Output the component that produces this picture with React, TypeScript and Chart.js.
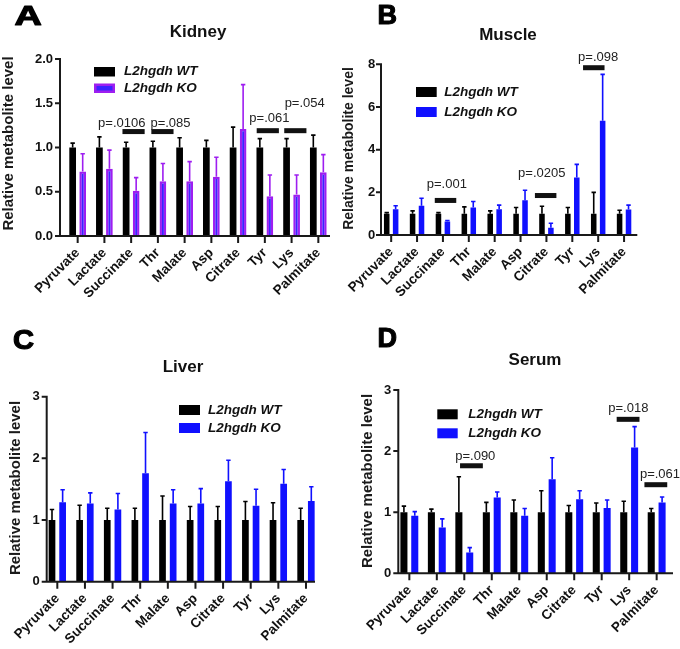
import React, { useEffect, useRef } from 'react';
import { Chart, registerables } from 'chart.js';

Chart.register(...registerables);

const FONT = '"Liberation Sans", Arial, Helvetica, sans-serif';

const categories = ['Pyruvate', 'Lactate', 'Succinate', 'Thr', 'Malate', 'Asp', 'Citrate', 'Tyr', 'Lys', 'Palmitate'];
const seriesNames = ['L2hgdh WT', 'L2hgdh KO'];

// ---- Kidney (A)
const kidneyWT = [1, 1, 1, 1, 1, 1, 1, 1, 1, 1];
const kidneyWTErr = [0.05, 0.12, 0.06, 0.07, 0.11, 0.08, 0.23, 0.1, 0.1, 0.14];
const kidneyKO = [0.73, 0.76, 0.51, 0.62, 0.62, 0.67, 1.21, 0.45, 0.47, 0.72];
const kidneyKOErr = [0.2, 0.21, 0.15, 0.2, 0.22, 0.22, 0.5, 0.24, 0.22, 0.2];
const kidneyYTicks = [0, 0.5, 1, 1.5, 2];
const kidneySigLabels = ['p=.0106', 'p=.085', 'p=.061', 'p=.054'];
const kidneySigCat = [2.09, 3.17, 7.11, 8.14];
const kidneySigY = [1.18, 1.18, 1.19, 1.19];
const kidneySigTextCat = [1.65, 3.47, 7.17, 8.49];
const kidneySigTextY = [1.27, 1.27, 1.33, 1.5];

// ---- Muscle (B)
const muscleWT = [1, 1, 1, 1, 1, 1, 1, 1, 1, 1];
const muscleWTErr = [0.05, 0.13, 0.05, 0.32, 0.13, 0.29, 0.35, 0.29, 1.0, 0.16];
const muscleKO = [1.21, 1.37, 0.63, 1.29, 1.21, 1.63, 0.34, 2.69, 5.36, 1.2];
const muscleKOErr = [0.16, 0.35, 0.05, 0.28, 0.19, 0.47, 0.21, 0.62, 2.17, 0.2];
const muscleYTicks = [0, 2, 4, 6, 8];
const muscleSigLabels = ['p=.001', 'p=.0205', 'p=.098'];
const muscleSigCat = [2.1, 5.97, 7.83];
const muscleSigY = [1.62, 1.85, 7.84];
const muscleSigTextCat = [2.15, 5.82, 8.0];
const muscleSigTextY = [2.35, 2.87, 8.34];

// ---- Liver (C)
const liverWT = [1, 1, 1, 1, 1, 1, 1, 1, 1, 1];
const liverWTErr = [0.17, 0.24, 0.19, 0.19, 0.39, 0.22, 0.22, 0.3, 0.28, 0.19];
const liverKO = [1.29, 1.27, 1.17, 1.76, 1.27, 1.27, 1.63, 1.23, 1.59, 1.31];
const liverKOErr = [0.2, 0.17, 0.26, 0.66, 0.22, 0.24, 0.34, 0.27, 0.23, 0.23];
const liverYTicks = [0, 1, 2, 3];
const liverSigLabels: string[] = [];
const liverSigCat: number[] = [];
const liverSigY: number[] = [];
const liverSigTextCat: number[] = [];
const liverSigTextY: number[] = [];

// ---- Serum (D)
const serumWT = [1, 1, 1, 1, 1, 1, 1, 1, 1, 1];
const serumWTErr = [0.1, 0.05, 0.58, 0.16, 0.2, 0.35, 0.11, 0.15, 0.18, 0.06];
const serumKO = [0.94, 0.75, 0.34, 1.24, 0.94, 1.54, 1.21, 1.07, 2.06, 1.16];
const serumKOErr = [0.07, 0.14, 0.08, 0.09, 0.12, 0.35, 0.14, 0.13, 0.34, 0.09];
const serumYTicks = [0, 1, 2, 3];
const serumSigLabels = ['p=.090', 'p=.018', 'p=.061'];
const serumSigCat = [2.26, 7.96, 8.97];
const serumSigY = [1.76, 2.52, 1.45];
const serumSigTextCat = [2.4, 7.97, 9.12];
const serumSigTextY = [1.92, 2.7, 1.62];

interface Layout {
  left: number; top: number; w: number; h: number;
  caLeft: number; caRight: number; caTop: number; caBottom: number;
  axisX: number; axisEnd: number; barPct: number; catPct: number;
  letterX: number; letterTop: number; letterScale: number;
  titleX: number; titleY: number;
  legendX: number; legendW: number; legendY1: number; legendY2: number; legendH: number; legendTextX: number;
  yLabelX: number; yLabelY: number; yLabelSize: number;
}

interface Panel {
  letter: string; title: string;
  wt: number[]; wtErr: number[]; ko: number[]; koErr: number[];
  yTicks: number[]; decimals: number;
  koFill: string; koBorder: string; koBorderWidth: number;
  sigLabels: string[]; sigCat: number[]; sigY: number[]; sigTextCat: number[]; sigTextY: number[];
  L: Layout;
}

const BLUE = '#1010ff';

const panels: Panel[] = [
  {
    letter: 'A', title: 'Kidney', wt: kidneyWT, wtErr: kidneyWTErr, ko: kidneyKO, koErr: kidneyKOErr,
    yTicks: kidneyYTicks, decimals: 1, koFill: '#3a22ff', koBorder: '#9e1ef0', koBorderWidth: 2.4,
    sigLabels: kidneySigLabels, sigCat: kidneySigCat, sigY: kidneySigY, sigTextCat: kidneySigTextCat, sigTextY: kidneySigTextY,
    L: {
      left: 0, top: 0, w: 340, h: 320, caLeft: 64.3, caRight: 331.7, caTop: 59, caBottom: 236,
      axisX: 60, axisEnd: 330, barPct: 0.67, catPct: 0.75,
      letterX: 16, letterTop: 5.5, letterScale: 1.4, titleX: 198, titleY: 32.5,
      legendX: 94, legendW: 21, legendY1: 67, legendY2: 83.5, legendH: 9.5, legendTextX: 124,
      yLabelX: 9, yLabelY: 143.5, yLabelSize: 15,
    },
  },
  {
    letter: 'B', title: 'Muscle', wt: muscleWT, wtErr: muscleWTErr, ko: muscleKO, koErr: muscleKOErr,
    yTicks: muscleYTicks, decimals: 0, koFill: BLUE, koBorder: BLUE, koBorderWidth: 0,
    sigLabels: muscleSigLabels, sigCat: muscleSigCat, sigY: muscleSigY, sigTextCat: muscleSigTextCat, sigTextY: muscleSigTextY,
    L: {
      left: 340, top: 0, w: 340, h: 320, caLeft: 37, caRight: 297, caTop: 64.3, caBottom: 235,
      axisX: 41, axisEnd: 297.3, barPct: 0.62, catPct: 0.69,
      letterX: 38.5, letterTop: 4.5, letterScale: 1.0, titleX: 168, titleY: 35,
      legendX: 76, legendW: 20.7, legendY1: 87, legendY2: 107, legendH: 10, legendTextX: 104.3,
      yLabelX: 9, yLabelY: 148.5, yLabelSize: 14,
    },
  },
  {
    letter: 'C', title: 'Liver', wt: liverWT, wtErr: liverWTErr, ko: liverKO, koErr: liverKOErr,
    yTicks: liverYTicks, decimals: 0, koFill: BLUE, koBorder: BLUE, koBorderWidth: 0,
    sigLabels: liverSigLabels, sigCat: liverSigCat, sigY: liverSigY, sigTextCat: liverSigTextCat, sigTextY: liverSigTextY,
    L: {
      left: 0, top: 320, w: 340, h: 329, caLeft: 43.5, caRight: 319.8, caTop: 76.7, caBottom: 261.7,
      axisX: 46.7, axisEnd: 315, barPct: 0.63, catPct: 0.77,
      letterX: 14, letterTop: 9.5, letterScale: 1.08, titleX: 183, titleY: 47.5,
      legendX: 179, legendW: 21, legendY1: 85, legendY2: 103, legendH: 10, legendTextX: 208,
      yLabelX: 16, yLabelY: 168, yLabelSize: 15,
    },
  },
  {
    letter: 'D', title: 'Serum', wt: serumWT, wtErr: serumWTErr, ko: serumKO, koErr: serumKOErr,
    yTicks: serumYTicks, decimals: 0, koFill: BLUE, koBorder: BLUE, koBorderWidth: 0,
    sigLabels: serumSigLabels, sigCat: serumSigCat, sigY: serumSigY, sigTextCat: serumSigTextCat, sigTextY: serumSigTextY,
    L: {
      left: 340, top: 320, w: 340, h: 329, caLeft: 55.6, caRight: 330.4, caTop: 70, caBottom: 253.3,
      axisX: 58.3, axisEnd: 333, barPct: 0.65, catPct: 0.79,
      letterX: 38.5, letterTop: 7.5, letterScale: 1.0, titleX: 195, titleY: 40.5,
      legendX: 97.3, legendW: 20.4, legendY1: 89.3, legendY2: 108.3, legendH: 10, legendTextX: 128.3,
      yLabelX: 27.5, yLabelY: 161, yLabelSize: 15,
    },
  },
];

const YW = 40;
const XH = 62;
const SIG_WIDTH = 0.83;
const LETTER_SIZE = 27;

function makePlugin(p: Panel) {
  const L = p.L;
  return {
    id: 'panelDecor',
    afterDatasetsDraw(chart: any) {
      const ctx = chart.ctx;
      const ys = chart.scales.y;
      const sets: [number[], number[], string][] = [
        [p.wt, p.wtErr, '#000000'],
        [p.ko, p.koErr, p.koBorderWidth > 0 ? p.koBorder : p.koFill],
      ];
      sets.forEach(([vals, errs, col], di) => {
        const meta = chart.getDatasetMeta(di);
        meta.data.forEach((el: any, i: number) => {
          const top = ys.getPixelForValue(vals[i] + errs[i]);
          ctx.save();
          ctx.strokeStyle = col;
          ctx.lineWidth = 1.6;
          ctx.beginPath();
          ctx.moveTo(el.x, el.y);
          ctx.lineTo(el.x, top);
          ctx.moveTo(el.x - 2.2, top);
          ctx.lineTo(el.x + 2.2, top);
          ctx.stroke();
          ctx.restore();
        });
      });
    },
    afterDraw(chart: any) {
      const ctx = chart.ctx;
      const xs = chart.scales.x;
      const ys = chart.scales.y;
      const bottom = chart.chartArea.bottom;
      ctx.save();
      // axes
      ctx.strokeStyle = '#1a1a1a';
      ctx.lineWidth = 2;
      ctx.beginPath();
      const yTop = ys.getPixelForValue(p.yTicks[p.yTicks.length - 1]);
      ctx.moveTo(L.axisX, yTop - 1);
      ctx.lineTo(L.axisX, bottom + 1);
      ctx.moveTo(L.axisX - 1, bottom);
      ctx.lineTo(L.axisEnd, bottom);
      p.yTicks.forEach((v) => {
        const py = ys.getPixelForValue(v);
        ctx.moveTo(L.axisX - 5, py);
        ctx.lineTo(L.axisX, py);
      });
      categories.forEach((_, i) => {
        const px = xs.getPixelForValue(i);
        ctx.moveTo(px, bottom);
        ctx.lineTo(px, bottom + 7);
      });
      ctx.stroke();

      // significance bars
      p.sigLabels.forEach((lab, i) => {
        const step = xs.getPixelForValue(1) - xs.getPixelForValue(0);
        const cx = xs.getPixelForValue(p.sigCat[i]);
        const cy = ys.getPixelForValue(p.sigY[i]);
        const half = (SIG_WIDTH * step) / 2;
        ctx.fillStyle = '#111';
        ctx.fillRect(cx - half, cy - 2.5, half * 2, 5);
        ctx.font = `13px ${FONT}`;
        ctx.textAlign = 'center';
        ctx.textBaseline = 'middle';
        ctx.fillStyle = '#222';
        ctx.fillText(lab, xs.getPixelForValue(p.sigTextCat[i]), ys.getPixelForValue(p.sigTextY[i]));
      });

      // title
      ctx.fillStyle = '#111';
      ctx.font = `bold 17px ${FONT}`;
      ctx.textAlign = 'center';
      ctx.textBaseline = 'middle';
      ctx.fillText(p.title, L.titleX, L.titleY);

      // panel letter
      ctx.save();
      ctx.translate(L.letterX, L.letterTop + LETTER_SIZE * 0.716);
      ctx.scale(L.letterScale, 1);
      ctx.font = `bold ${LETTER_SIZE}px ${FONT}`;
      ctx.textAlign = 'left';
      ctx.textBaseline = 'alphabetic';
      ctx.fillStyle = '#000';
      ctx.strokeStyle = '#000';
      ctx.lineWidth = 1.1;
      ctx.lineJoin = 'round';
      ctx.fillText(p.letter, -1, 0);
      ctx.strokeText(p.letter, -1, 0);
      ctx.restore();

      // y axis title
      ctx.save();
      ctx.translate(L.yLabelX, L.yLabelY);
      ctx.rotate(-Math.PI / 2);
      ctx.font = `bold ${L.yLabelSize}px ${FONT}`;
      ctx.textAlign = 'center';
      ctx.textBaseline = 'middle';
      ctx.fillStyle = '#1a1a1a';
      ctx.fillText('Relative metabolite level', 0, 0);
      ctx.restore();

      // legend
      ctx.fillStyle = '#000';
      ctx.fillRect(L.legendX, L.legendY1, L.legendW, L.legendH);
      if (p.koBorderWidth > 0) {
        ctx.fillStyle = p.koBorder;
        ctx.fillRect(L.legendX, L.legendY2, L.legendW, L.legendH);
        ctx.fillStyle = p.koFill;
        ctx.fillRect(L.legendX + 2.5, L.legendY2 + 2.5, L.legendW - 5, L.legendH - 5);
      } else {
        ctx.fillStyle = p.koFill;
        ctx.fillRect(L.legendX, L.legendY2, L.legendW, L.legendH);
      }
      ctx.fillStyle = '#111';
      ctx.font = `italic bold 13.5px ${FONT}`;
      ctx.textAlign = 'left';
      ctx.textBaseline = 'middle';
      ctx.fillText(seriesNames[0], L.legendTextX, L.legendY1 + L.legendH / 2);
      ctx.fillText(seriesNames[1], L.legendTextX, L.legendY2 + L.legendH / 2);
      ctx.restore();
    },
  };
}

function PanelChart({ p }: { p: Panel }) {
  const ref = useRef<HTMLCanvasElement | null>(null);
  useEffect(() => {
    if (!ref.current) return;
    const L = p.L;
    const chart = new Chart(ref.current, {
      type: 'bar',
      data: {
        labels: categories,
        datasets: [
          {
            label: seriesNames[0],
            data: p.wt,
            backgroundColor: '#000000',
            borderWidth: 0,
            barPercentage: L.barPct,
            categoryPercentage: L.catPct,
          },
          {
            label: seriesNames[1],
            data: p.ko,
            backgroundColor: p.koFill,
            borderColor: p.koBorder,
            borderWidth: p.koBorderWidth,
            barPercentage: L.barPct,
            categoryPercentage: L.catPct,
          },
        ],
      },
      options: {
        responsive: false,
        animation: false,
        devicePixelRatio: 1,
        layout: {
          padding: {
            left: L.caLeft - YW,
            right: L.w - L.caRight,
            top: L.caTop,
            bottom: L.h - L.caBottom - XH,
          },
        },
        plugins: { legend: { display: false }, title: { display: false }, tooltip: { enabled: false } },
        scales: {
          x: {
            type: 'category',
            offset: true,
            grid: { display: false, drawTicks: false, offset: false },
            border: { display: false },
            ticks: {
              autoSkip: false,
              maxRotation: 45,
              minRotation: 45,
              padding: 9,
              color: '#111',
              font: { family: FONT, size: 13.5, weight: 'bold' },
            },
            afterFit(s: any) { s.height = XH; },
          },
          y: {
            min: 0,
            max: p.yTicks[p.yTicks.length - 1],
            grid: { display: false, drawTicks: false },
            border: { display: false },
            afterBuildTicks(s: any) { s.ticks = p.yTicks.map((v) => ({ value: v })); },
            ticks: {
              padding: L.caLeft - L.axisX + 7,
              color: '#111',
              font: { family: FONT, size: 13, weight: 'bold' },
              callback: (v: any) => Number(v).toFixed(p.decimals),
            },
            afterFit(s: any) { s.width = YW; },
          },
        },
      } as any,
      plugins: [makePlugin(p)],
    });
    return () => chart.destroy();
  }, [p]);
  return (
    <canvas
      ref={ref}
      width={p.L.w}
      height={p.L.h}
      style={{ position: 'absolute', left: p.L.left, top: p.L.top, width: p.L.w, height: p.L.h }}
    />
  );
}

export default function App() {
  return (
    <div style={{ position: 'absolute', left: 0, top: 0, width: 680, height: 649, background: '#ffffff', overflow: 'hidden' }}>
      {panels.map((p) => (
        <PanelChart key={p.letter} p={p} />
      ))}
    </div>
  );
}
